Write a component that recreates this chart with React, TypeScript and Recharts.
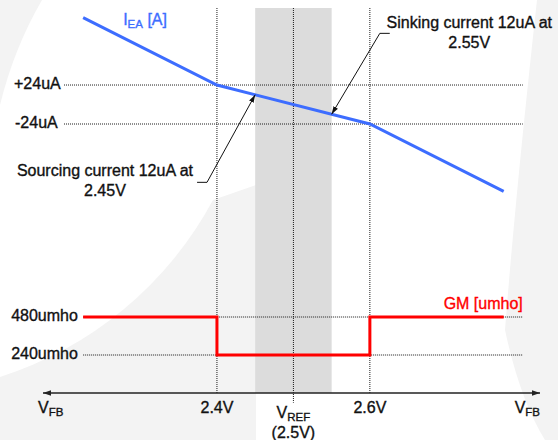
import React from 'react';
import {
  ComposedChart,
  Line,
  XAxis,
  YAxis,
  ReferenceLine,
  ReferenceArea,
  ReferenceDot,
} from 'recharts';

// ---- data ----
const ieaVoltage = [2.225, 2.4, 2.6, 2.775];
const ieaCurrent = [107, 24, -24, -107];
const gmVoltage = [2.225, 2.4, 2.6, 2.775];
const gmValue = [480, 240, 480, 480];

const currentTicks = [24, -24];
const currentTickLabels = ['+24uA', '-24uA'];
const gmTicks = [480, 240];
const gmTickLabels = ['480umho', '240umho'];

const X_MIN = 2.1725;
const X_MAX = 2.8225;
const CUR_MIN = -355.1;
const CUR_MAX = 118.8;
const GM_MIN = 0;
const GM_MAX = 2432;

const guideVoltages = [2.4, 2.6];
const refVoltage = 2.5;
const bandVoltages = [2.45, 2.55];
const xTickValues = [X_MIN, 2.4, 2.5, 2.6, X_MAX];
const currentGuideRange = [2.2, 2.8];
const gmGuideRange = [2.225, 2.8];

const sourcingPoint = { v: 2.45, i: 12 };
const sinkingPoint = { v: 2.55, i: -12 };

const ieaData = ieaVoltage.map((v, k) => ({ x: v, y: ieaCurrent[k] }));
const gmData = gmVoltage.map((v, k) => ({ x: v, y: gmValue[k] }));

// ---- styles ----
const FONT = '"Liberation Sans", Arial, Helvetica, sans-serif';
const BLUE = '#3d6dff';
const RED = '#ff0000';
const INK = '#111111';
const DOT = '#1a1a1a';

const txt = {
  fontFamily: FONT,
  fontSize: 16,
  fill: INK,
  stroke: INK,
  strokeWidth: 0.35,
  whiteSpace: 'pre' as const,
};

function XTick(props: any) {
  const { x, y, payload } = props;
  const v = payload.value;
  if (v === X_MIN) {
    return (
      <text x={x - 5} y={y + 20} textAnchor="start" style={txt}>
        V<tspan fontSize={11.5} dy={3}>FB</tspan>
      </text>
    );
  }
  if (v === X_MAX) {
    return (
      <text x={x} y={y + 20} textAnchor="end" style={txt}>
        V<tspan fontSize={11.5} dy={3}>FB</tspan>
      </text>
    );
  }
  if (v === refVoltage) {
    return (
      <g>
        <text x={x} y={y + 25} textAnchor="middle" style={txt}>
          V<tspan fontSize={11.5} dy={3}>REF</tspan>
        </text>
        <text x={x} y={y + 45} textAnchor="middle" style={txt}>
          ({v.toFixed(1)}V)
        </text>
      </g>
    );
  }
  return (
    <text x={x} y={y + 20} textAnchor="middle" style={txt}>
      {v.toFixed(1)}V
    </text>
  );
}

const leaderShape = (p: any) => (
  <line x1={p.x1} y1={p.y1} x2={p.x2} y2={p.y2} stroke={INK} strokeWidth={1} markerEnd="url(#leadArrow)" />
);
const tailShape = (p: any) => (
  <line x1={p.x1} y1={p.y1} x2={p.x2} y2={p.y2} stroke={INK} strokeWidth={1} />
);
const axisShape = (p: any) => (
  <line
    x1={p.x1}
    y1={p.y1}
    x2={p.x2}
    y2={p.y2}
    stroke="#222"
    strokeWidth={1.3}
    markerStart="url(#axArrow)"
    markerEnd="url(#axArrow)"
  />
);

const leftLabel = (text: string, dx: number) => (p: any) => (
  <text x={p.cx + dx} y={p.cy + 4} textAnchor="start" style={txt}>
    {text}
  </text>
);

export default function App() {
  return (
    <div style={{ position: 'absolute', left: 0, top: 0, width: 558, height: 440, background: '#ffffff', overflow: 'hidden' }}>
      <svg width={558} height={440} style={{ position: 'absolute', left: 0, top: 0 }}>
        <defs>
          <marker id="axArrow" markerUnits="userSpaceOnUse" markerWidth={9} markerHeight={7} refX={8} refY={3.5} orient="auto-start-reverse">
            <path d="M0,0.8 L8,3.5 L0,6.2 Z" fill="#222" />
          </marker>
          <marker id="leadArrow" markerUnits="userSpaceOnUse" markerWidth={10} markerHeight={8} refX={8} refY={3} orient="auto">
            <path d="M0,0.5 L8,3 L0,5.5 Z" fill={INK} />
          </marker>
        </defs>
        {/* faint background watermark */}
        <path d="M0,0 L42,0 Q14,48 0,105 Z" fill="#f3f3f3" />
        <path d="M0,377 A369,369 0 0 0 213,200 L256,185 L256,440 L0,440 Z" fill="#f3f3f3" />
        <path d="M537,0 Q515,200 505,330 Q520,400 545,440 L558,440 L558,0 Z" fill="#f3f3f3" />
      </svg>
      <ComposedChart
        width={558}
        height={440}
        margin={{ top: 8, right: 18, bottom: 0, left: 43 }}
      >
        <XAxis
          type="number"
          dataKey="x"
          domain={[X_MIN, X_MAX]}
          allowDataOverflow
          ticks={xTickValues}
          interval={0}
          height={47}
          axisLine={false}
          tickLine={false}
          tickSize={0}
          tickMargin={0}
          tick={<XTick />}
        />
        <YAxis yAxisId="cur" type="number" domain={[CUR_MIN, CUR_MAX]} allowDataOverflow hide />
        <YAxis yAxisId="gm" type="number" domain={[GM_MIN, GM_MAX]} allowDataOverflow hide />

        <ReferenceArea
          yAxisId="cur"
          x1={bandVoltages[0]}
          x2={bandVoltages[1]}
          fill="#dcdcdc"
          fillOpacity={1}
          stroke="none"
        />

        {guideVoltages.map((v) => (
          <ReferenceLine key={'v' + v} yAxisId="cur" x={v} stroke={DOT} strokeWidth={1} strokeDasharray="1 1" />
        ))}
        <ReferenceLine
          yAxisId="cur"
          ifOverflow="visible"
          segment={[
            { x: refVoltage, y: CUR_MAX },
            { x: refVoltage, y: -367 },
          ]}
          stroke={DOT}
          strokeWidth={1}
          strokeDasharray="1 1"
        />
        {currentTicks.map((c) => (
          <ReferenceLine
            key={'c' + c}
            yAxisId="cur"
            segment={[
              { x: currentGuideRange[0], y: c },
              { x: currentGuideRange[1], y: c },
            ]}
            stroke={DOT}
            strokeWidth={1}
            strokeDasharray="1 1"
          />
        ))}
        {gmTicks.map((g) => (
          <ReferenceLine
            key={'g' + g}
            yAxisId="gm"
            segment={[
              { x: gmGuideRange[0], y: g },
              { x: gmGuideRange[1], y: g },
            ]}
            stroke={DOT}
            strokeWidth={1}
            strokeDasharray="1 1"
          />
        ))}

        {/* y tick labels */}
        {currentTicks.map((c, k) => (
          <ReferenceDot
            key={'cl' + c}
            yAxisId="cur"
            x={currentGuideRange[0]}
            y={c}
            r={0}
            shape={leftLabel(currentTickLabels[k], k === 0 ? -50 : -49)}
          />
        ))}
        {gmTicks.map((g, k) => (
          <ReferenceDot
            key={'gl' + g}
            yAxisId="gm"
            x={gmGuideRange[0]}
            y={g}
            r={0}
            shape={leftLabel(gmTickLabels[k], -72)}
          />
        ))}

        <ReferenceLine yAxisId="gm" y={GM_MIN} shape={axisShape} />

        <Line
          yAxisId="cur"
          data={ieaData}
          dataKey="y"
          type="linear"
          stroke={BLUE}
          strokeWidth={3}
          dot={false}
          activeDot={false}
          isAnimationActive={false}
        />
        <Line
          yAxisId="gm"
          data={gmData}
          dataKey="y"
          type="stepAfter"
          stroke={RED}
          strokeWidth={3}
          dot={false}
          activeDot={false}
          isAnimationActive={false}
        />

        {/* leaders */}
        <ReferenceLine
          yAxisId="cur"
          segment={[
            { x: 2.374, y: -95.8 },
            { x: 2.387, y: -95.8 },
          ]}
          shape={tailShape}
        />
        <ReferenceLine
          yAxisId="cur"
          segment={[
            { x: 2.387, y: -95.8 },
            { x: sourcingPoint.v, y: sourcingPoint.i },
          ]}
          shape={leaderShape}
        />
        <ReferenceLine
          yAxisId="cur"
          segment={[
            { x: 2.626, y: 87.6 },
            { x: 2.613, y: 87.6 },
          ]}
          shape={tailShape}
        />
        <ReferenceLine
          yAxisId="cur"
          segment={[
            { x: 2.613, y: 87.6 },
            { x: sinkingPoint.v, y: sinkingPoint.i },
          ]}
          shape={leaderShape}
        />

        {/* text annotations */}
        <ReferenceDot
          yAxisId="cur"
          x={2.306}
          y={97.5}
          r={0}
          shape={(p: any) => (
            <text x={p.cx} y={p.cy} textAnchor="middle" style={{ ...txt, fill: BLUE, stroke: BLUE }}>
              I<tspan fontSize={11.5} dy={3}>EA</tspan>
              <tspan dy={-3}> [A]</tspan>
            </text>
          )}
        />
        <ReferenceDot
          yAxisId="gm"
          x={2.8}
          y={529}
          r={0}
          shape={(p: any) => (
            <text x={p.cx} y={p.cy} textAnchor="end" style={{ ...txt, fill: RED, stroke: RED }}>
              GM [umho]
            </text>
          )}
        />
        <ReferenceDot
          yAxisId="cur"
          x={2.2535}
          y={-88}
          r={0}
          shape={(p: any) => (
            <g>
              <text x={p.cx} y={p.cy} textAnchor="middle" style={txt}>
                Sourcing current 12uA at
              </text>
              <text x={p.cx} y={p.cy + 20} textAnchor="middle" style={txt}>
                {sourcingPoint.v.toFixed(2)}V
              </text>
            </g>
          )}
        />
        <ReferenceDot
          yAxisId="cur"
          x={2.73}
          y={93.8}
          r={0}
          shape={(p: any) => (
            <g>
              <text x={p.cx} y={p.cy} textAnchor="middle" style={txt}>
                Sinking current 12uA at
              </text>
              <text x={p.cx} y={p.cy + 20} textAnchor="middle" style={txt}>
                {sinkingPoint.v.toFixed(2)}V
              </text>
            </g>
          )}
        />
      </ComposedChart>
    </div>
  );
}
